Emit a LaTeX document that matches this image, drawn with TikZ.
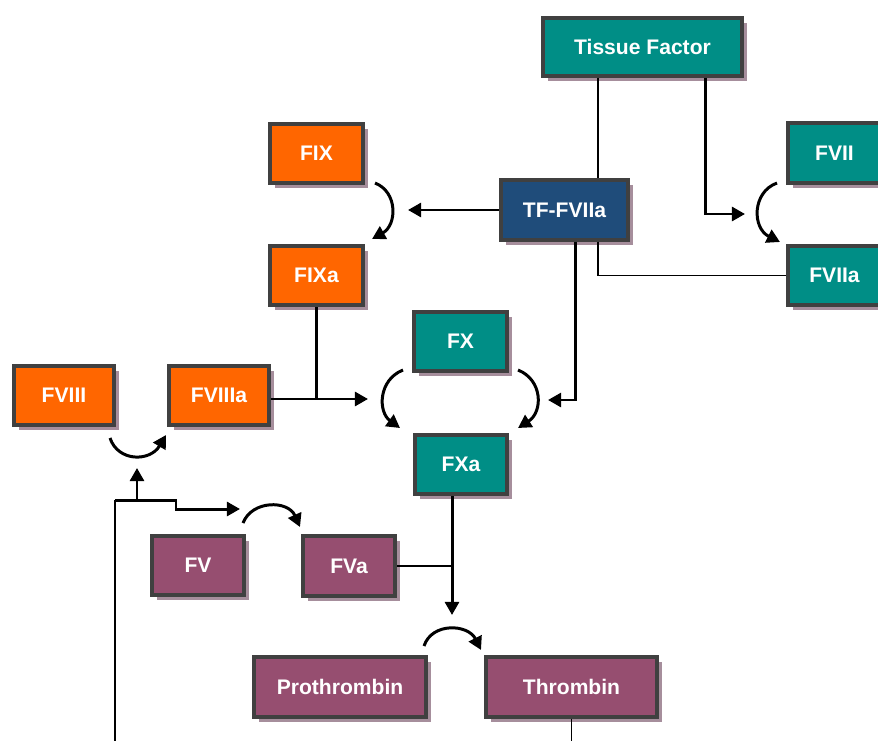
\documentclass[tikz,border=0pt]{standalone}
\usepackage{fontspec}
\setmainfont{Liberation Sans}
\usetikzlibrary{shadows,arrows.meta}

\definecolor{tealfill}{RGB}{0,142,134}
\definecolor{orangefill}{RGB}{255,102,0}
\definecolor{bluefill}{RGB}{31,76,122}
\definecolor{mauvefill}{RGB}{150,78,112}
\definecolor{edge}{RGB}{64,64,64}
\definecolor{shade}{RGB}{166,142,156}

\tikzset{
  factor/.style={draw=edge, line width=2.3pt, text=white, inner sep=0pt,
    font=\bfseries\fontsize{12}{14}\selectfont,
    minimum width=1.85cm, minimum height=1.19cm,
    drop shadow={shadow xshift=0.1cm, shadow yshift=-0.1cm, fill=shade, opacity=1}},
  tealbox/.style={factor, fill=tealfill},
  orangebox/.style={factor, fill=orangefill},
  bluebox/.style={factor, fill=bluefill},
  mauvebox/.style={factor, fill=mauvefill},
  thinline/.style={line width=0.6pt},
  act/.style={line width=1.7pt, -{Triangle[length=7.5pt,width=8pt]}}
}

\begin{document}
\begin{tikzpicture}[x=0.02cm, y=-0.02cm]
        %% one unit is one pixel of the 878 x 740 picture, y running downwards
        \clip (0,0) rectangle (878,740);

        %% the factors
        \node[tealbox, minimum width=3.97cm, minimum height=1.15cm] (TF) at (642.5,47) {Tissue Factor};
        \node[orangebox] (FIX) at (316.5,153.5) {FIX};
        \node[bluebox, minimum width=2.53cm] (TFVIIa) at (564.5,210) {TF-FVIIa};
        \node[tealbox] (FVII) at (834.5,153) {FVII};
        \node[tealbox] (FVIIa) at (834.5,275.5) {FVIIa};
        \node[orangebox] (FIXa) at (316.5,275.5) {FIXa};
        \node[tealbox] (FX) at (460.5,341.5) {FX};
        \node[orangebox, minimum width=1.99cm] (FVIII) at (64,395.5) {FVIII};
        \node[orangebox, minimum width=1.99cm] (FVIIIa) at (219,395.5) {FVIIIa};
        \node[tealbox] (FXa) at (461,464.5) {FXa};
        \node[mauvebox] (FV) at (198,565.5) {FV};
        \node[mauvebox] (FVa) at (349,566) {FVa};
        \node[mauvebox, minimum width=3.43cm] (Prothrombin) at (340,687) {Prothrombin};
        \node[mauvebox, minimum width=3.41cm] (Thrombin) at (571.5,687) {Thrombin};

        %% free ends of the arrows
        \coordinate (toFVII) at (745,214);
        \coordinate (toFIX) at (408,210);
        \coordinate (toFXr) at (548,400);
        \coordinate (toFXl) at (368,399);
        \coordinate (toFV) at (240,509);
        \coordinate (toFVIII) at (137,468);
        \coordinate (toProthrombin) at (452,615);

        %% tissue factor meets FVIIa
        \draw[thinline] (TF.south -| 598,0) -- (TFVIIa.north -| 598,0);
        \draw[thinline] (TFVIIa.south -| 598,0) |- (FVIIa.west);
        \draw[act] (TF.south -| 705,0) |- (toFVII);
        \draw[act] (TFVIIa.west) -- (toFIX);
        \draw[act] (TFVIIa.south -| 575,0) |- (toFXr);

        %% tenase
        \draw[act] (FIXa.south) |- (toFXl);
        \draw[thinline] (FVIIIa.east |- 0,399) -- (FIXa.south |- 0,399);

        %% prothrombinase
        \draw[act] (FXa.south -| 452,0) -- (toProthrombin);
        \draw[thinline] (FVa.east) -- (452,0 |- FVa.east);

        %% thrombin feeds back onto FV and FVIII
        \draw[thinline] (Thrombin.south) -- (Thrombin.south |- 0,745);
        \draw[thinline] (115,745) -- (115,500);
        \draw[act] (115,500) -- (176,500) -- (176,509) -- (toFV);
        \draw[act] (137,500) -- (toFVIII);

        %% the activation curls
        \coordinate (a1) at (777,183);  \coordinate (b1) at (780,242);
        \coordinate (a2) at (375,183);  \coordinate (b2) at (372,239);
        \coordinate (a3) at (403,370);  \coordinate (b3) at (400,428);
        \coordinate (a4) at (518,370);  \coordinate (b4) at (518,428);
        \coordinate (a5) at (110,438);  \coordinate (b5) at (166,435);
        \coordinate (a6) at (243,523);  \coordinate (b6) at (300,527);
        \coordinate (a7) at (424,646);  \coordinate (b7) at (481,650);
        \draw[act] (a1) .. controls (752,192) and (752,228) .. (b1);
        \draw[act] (a2) .. controls (398,192) and (397,225) .. (b2);
        \draw[act] (a3) .. controls (378,380) and (378,412) .. (b3);
        \draw[act] (a4) .. controls (543,380) and (543,412) .. (b4);
        \draw[act] (a5) .. controls (118,462) and (150,462) .. (b5);
        \draw[act] (a6) .. controls (252,500) and (288,500) .. (b6);
        \draw[act] (a7) .. controls (432,622) and (468,624) .. (b7);
\end{tikzpicture}
\end{document}
